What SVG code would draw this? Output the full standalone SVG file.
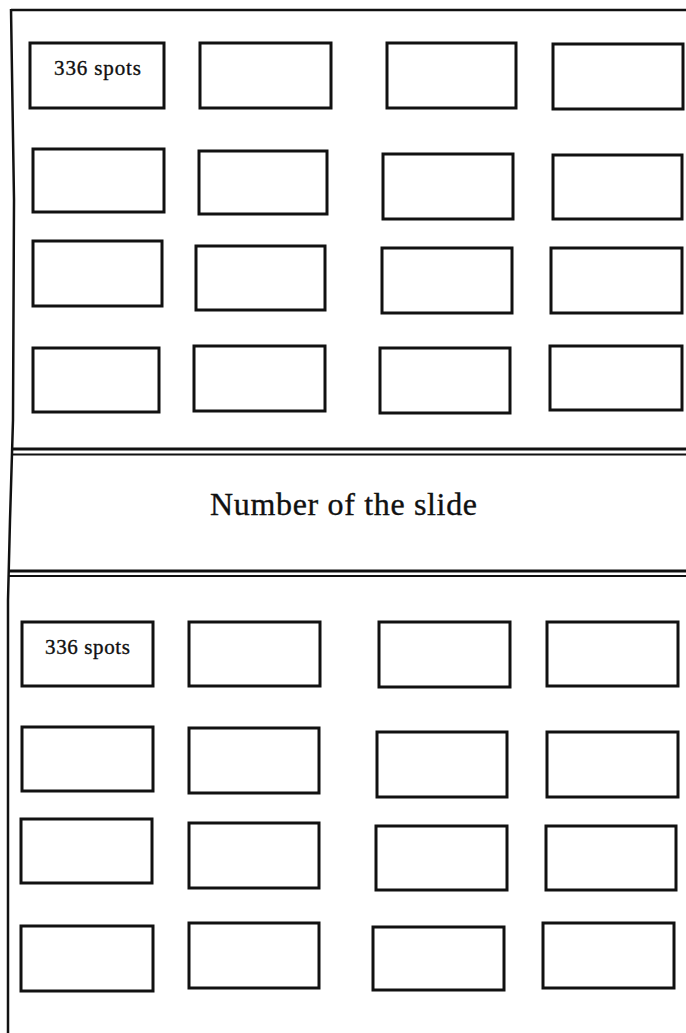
<svg xmlns="http://www.w3.org/2000/svg" width="686" height="1033" viewBox="0 0 686 1033">
<style>
.box{fill:#fff;stroke:#111;stroke-width:3}
.frame{fill:none;stroke:#111;stroke-width:2.5}
.lbl{font-family:"Liberation Serif","Times New Roman",serif;fill:#111;stroke:#111;stroke-width:0.35}
</style>
<rect width="686" height="1033" fill="#fff"/>
<g id="frame">
<line class="frame" x1="11" y1="10" x2="686" y2="10"/>
<polyline class="frame" points="11,9 14,200 13,420 10,520 8,600 8,1033"/>
</g>
<g id="separators">
<line x1="13" y1="449" x2="686" y2="449" stroke="#111" stroke-width="2.8"/>
<line x1="13" y1="454.5" x2="686" y2="454.5" stroke="#111" stroke-width="2.2"/>
<line x1="9" y1="571" x2="686" y2="571" stroke="#111" stroke-width="2.8"/>
<line x1="9" y1="576" x2="686" y2="576" stroke="#111" stroke-width="2.2"/>
</g>
<g id="title">
<text class="lbl" x="210" y="515" font-size="32" textLength="267" lengthAdjust="spacing">Number of the slide</text>
</g>
<g id="top-r1c1"><rect class="box" x="30" y="43" width="134" height="65"/><text class="lbl" x="54" y="75" font-size="21" textLength="87" lengthAdjust="spacing">336 spots</text></g>
<g id="top-r1c2"><rect class="box" x="200" y="43" width="131" height="65"/></g>
<g id="top-r1c3"><rect class="box" x="387" y="43" width="129" height="65"/></g>
<g id="top-r1c4"><rect class="box" x="553" y="44" width="130" height="65"/></g>
<g id="top-r2c1"><rect class="box" x="33" y="149" width="131" height="63"/></g>
<g id="top-r2c2"><rect class="box" x="199" y="151" width="128" height="63"/></g>
<g id="top-r2c3"><rect class="box" x="383" y="154" width="130" height="65"/></g>
<g id="top-r2c4"><rect class="box" x="553" y="155" width="129" height="64"/></g>
<g id="top-r3c1"><rect class="box" x="33" y="241" width="129" height="65"/></g>
<g id="top-r3c2"><rect class="box" x="196" y="246" width="129" height="64"/></g>
<g id="top-r3c3"><rect class="box" x="382" y="248" width="130" height="65"/></g>
<g id="top-r3c4"><rect class="box" x="551" y="248" width="131" height="65"/></g>
<g id="top-r4c1"><rect class="box" x="33" y="348" width="126" height="64"/></g>
<g id="top-r4c2"><rect class="box" x="194" y="346" width="131" height="65"/></g>
<g id="top-r4c3"><rect class="box" x="380" y="348" width="130" height="65"/></g>
<g id="top-r4c4"><rect class="box" x="550" y="346" width="132" height="64"/></g>
<g id="bot-r1c1"><rect class="box" x="22" y="622" width="131" height="64"/><text class="lbl" x="45" y="654" font-size="21" textLength="85" lengthAdjust="spacing">336 spots</text></g>
<g id="bot-r1c2"><rect class="box" x="189" y="622" width="131" height="64"/></g>
<g id="bot-r1c3"><rect class="box" x="379" y="622" width="131" height="65"/></g>
<g id="bot-r1c4"><rect class="box" x="547" y="622" width="131" height="64"/></g>
<g id="bot-r2c1"><rect class="box" x="22" y="727" width="131" height="64"/></g>
<g id="bot-r2c2"><rect class="box" x="189" y="728" width="130" height="65"/></g>
<g id="bot-r2c3"><rect class="box" x="377" y="732" width="130" height="65"/></g>
<g id="bot-r2c4"><rect class="box" x="547" y="732" width="131" height="65"/></g>
<g id="bot-r3c1"><rect class="box" x="21" y="819" width="131" height="64"/></g>
<g id="bot-r3c2"><rect class="box" x="189" y="823" width="130" height="65"/></g>
<g id="bot-r3c3"><rect class="box" x="376" y="826" width="131" height="64"/></g>
<g id="bot-r3c4"><rect class="box" x="546" y="826" width="130" height="64"/></g>
<g id="bot-r4c1"><rect class="box" x="21" y="926" width="132" height="65"/></g>
<g id="bot-r4c2"><rect class="box" x="189" y="923" width="130" height="65"/></g>
<g id="bot-r4c3"><rect class="box" x="373" y="927" width="131" height="63"/></g>
<g id="bot-r4c4"><rect class="box" x="543" y="923" width="131" height="65"/></g>
</svg>
